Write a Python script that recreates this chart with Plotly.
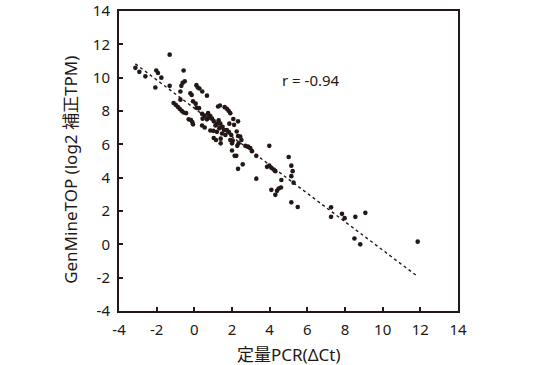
import plotly.graph_objects as go

# Scatter data (x: qPCR ΔCt, y: GenMineTOP log2 normalised TPM)
pcr_dct = [
    -3.13, -2.92, -2.60, -2.07, -2.02, -1.93, -1.75, -1.31, -1.31, -0.74,
    -0.69, -0.62, -0.51, -0.57, -0.74, -1.10, -0.99, -0.88, -0.78, -0.67,
    -0.57, -0.44, -0.21, -0.14, -0.30, -0.18, -0.07, -0.11, 0.11, 0.18,
    0.27, 0.42, 0.67, -0.07, 0.07, 0.12, 0.25, 0.41, 0.55, 0.41,
    0.55, 0.73, 0.85, 0.94, 0.67, 0.85, 1.03, 1.12, 1.03, 1.15,
    1.26, 1.36, 1.29, 1.38, 1.33, 1.20, 1.40, 1.40, 1.50, 1.59,
    1.61, 1.73, 1.82, 1.91, 1.73, 1.84, 1.91, 2.00, 2.00, 2.07,
    2.11, 2.14, 2.23, 2.32, 2.25, 2.32, 2.35, 2.28, 2.44, 2.50,
    2.32, 2.57, 2.71, 2.85, 2.97, 3.06, 3.29, 3.29, 3.98, 3.86,
    3.98, 4.09, 4.21, 4.30, 4.09, 4.30, 4.39, 4.48, 4.60, 4.62,
    5.01, 5.15, 5.22, 5.15, 5.27, 5.15, 5.49, 7.26, 7.26, 7.84,
    7.98, 8.55, 9.08, 8.50, 8.81, 11.86, 0.76, 1.20, 1.47, 1.65,
    1.96, 2.04, 1.86, 1.01, 0.44,
]
genminetop_tpm = [
    10.59, 10.35, 10.08, 9.41, 10.43, 10.28, 10.00, 11.38, 9.51, 9.17,
    9.51, 9.69, 9.78, 10.43, 8.68, 8.48, 8.37, 8.25, 8.13, 8.01,
    7.91, 7.87, 9.06, 8.96, 7.50, 7.46, 7.20, 7.34, 9.55, 9.41,
    9.35, 9.17, 8.92, 8.58, 8.44, 8.19, 8.17, 7.83, 7.72, 7.13,
    7.01, 7.87, 7.70, 7.54, 7.50, 6.83, 7.40, 7.13, 6.38, 6.26,
    8.27, 8.33, 7.44, 7.24, 6.97, 6.75, 6.06, 6.34, 7.05, 6.85,
    8.23, 8.13, 8.01, 7.87, 6.85, 6.73, 6.26, 6.06, 5.63, 7.52,
    7.17, 5.31, 5.31, 7.38, 6.77, 6.50, 6.06, 5.91, 6.46, 6.26,
    4.53, 4.80, 5.91, 5.87, 5.77, 5.59, 5.31, 3.94, 5.91, 4.65,
    4.72, 4.59, 4.49, 4.39, 3.27, 2.97, 3.21, 3.35, 3.41, 3.86,
    5.24, 4.72, 4.39, 4.09, 3.70, 2.52, 2.24, 2.22, 1.65, 1.83,
    1.57, 1.65, 1.89, 0.35, 0.00, 0.16, 7.64, 7.24, 6.65, 6.56,
    6.56, 6.22, 7.24, 6.81, 7.54,
]

# Regression line end points as drawn in the reference
trend_x = [-3.13, 11.86]
trend_y = [10.83, -1.93]

r_label = "r = -0.94"
tick_vals = [-4, -2, 0, 2, 4, 6, 8, 10, 12, 14]
tick_text = ["-4", "-2", "0", "2", "4", "6", "8", "10", "12", "14"]
x_title = "定量PCR(ΔCt)"
y_title = "GenMineTOP (log2 補正TPM)"

ink = "#231815"
font_family = "Noto Sans, Noto Sans CJK JP, sans-serif"

fig = go.Figure()
fig.add_trace(go.Scatter(
    x=trend_x, y=trend_y, mode="lines",
    line=dict(color=ink, width=1.4, dash="dot"),
    hoverinfo="skip", showlegend=False,
))
fig.add_trace(go.Scatter(
    x=pcr_dct, y=genminetop_tpm, mode="markers",
    marker=dict(color=ink, size=4.6, line=dict(width=0)),
    showlegend=False,
))

axis_common = dict(
    range=[-4, 14.0001], tickmode="array", tickvals=tick_vals, ticktext=tick_text,
    ticks="inside", ticklen=4, tickwidth=1.5, tickcolor=ink,
    showline=True, linecolor=ink, linewidth=2, mirror=True,
    showgrid=False, zeroline=False, automargin=False,
    ticklabeloverflow="allow",
    tickfont=dict(family=font_family, size=15, color=ink),
)
fig.update_xaxes(**axis_common)
fig.update_yaxes(**axis_common)
fig.update_xaxes(ticklabelstandoff=4)
fig.update_yaxes(ticklabelstandoff=4)

fig.add_annotation(
    x=6.18, y=9.84, xref="x", yref="y", text=r_label, showarrow=False,
    font=dict(family=font_family, size=15, color=ink),
)
fig.add_annotation(
    x=0.5, y=-0.145, xref="paper", yref="paper", text=x_title,
    showarrow=False, xanchor="center", yanchor="middle",
    font=dict(family=font_family, size=17, color=ink),
)
fig.add_annotation(
    x=-0.145, y=0.47, xref="paper", yref="paper", text=y_title,
    showarrow=False, textangle=-90, xanchor="center", yanchor="middle",
    font=dict(family=font_family, size=17, color=ink),
)

fig.update_layout(
    width=540, height=365,
    margin=dict(l=119, r=82, t=11, b=54),
    paper_bgcolor="white", plot_bgcolor="white",
)

fig.write_html("out.html")
